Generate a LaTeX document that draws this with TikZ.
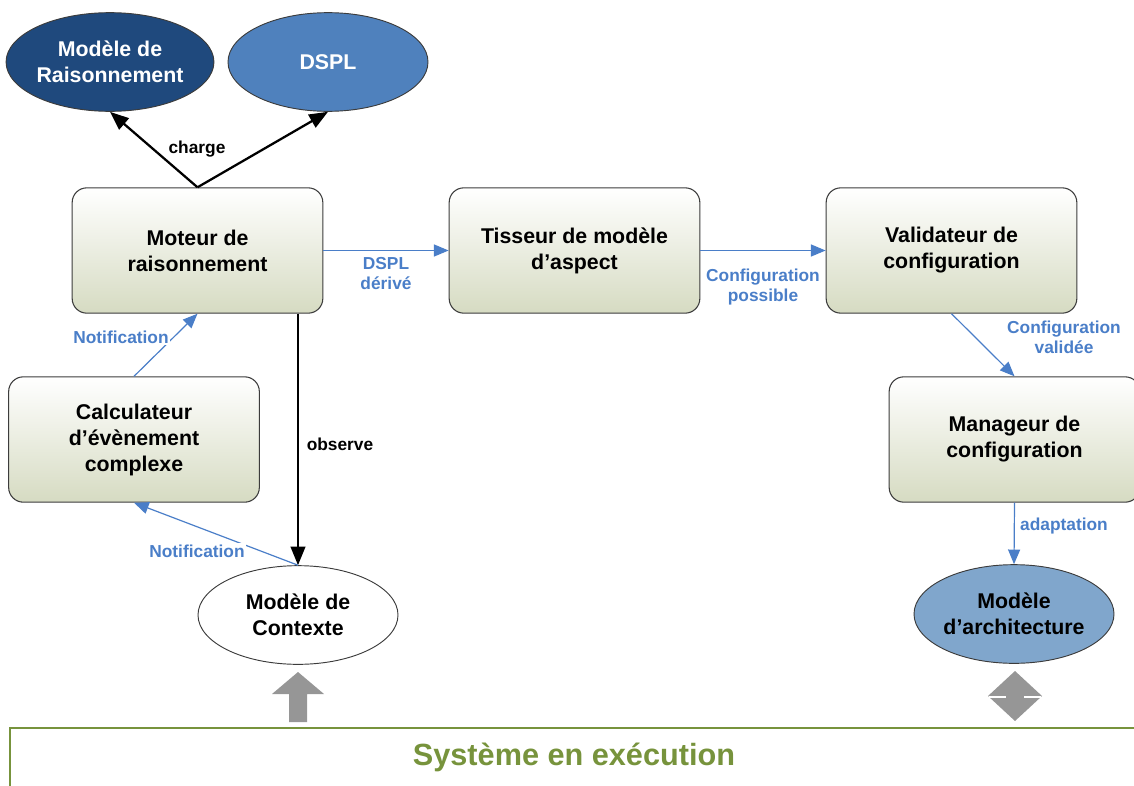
\documentclass[tikz,border=0pt]{standalone}
\usepackage{fontspec}
\setmainfont{Liberation Sans}
\usetikzlibrary{positioning,arrows.meta,shapes.geometric}

\definecolor{raisblue}{RGB}{31,73,125}
\definecolor{dsplblue}{RGB}{79,129,189}
\definecolor{archblue}{RGB}{128,166,204}
\definecolor{flowblue}{RGB}{74,126,200}
\definecolor{boxbot}{RGB}{214,219,194}
\definecolor{boxline}{RGB}{60,60,60}
\definecolor{sysgreen}{RGB}{119,147,60}
\definecolor{blockgray}{RGB}{150,150,150}

\tikzset{
    comp/.style={draw=boxline, line width=0.8pt, rounded corners=11pt,
        top color=white, bottom color=boxbot,
        minimum width=188pt, minimum height=94pt, align=center,
        font=\fontsize{16}{19.5}\selectfont\bfseries},
    model/.style={ellipse, draw=boxline, line width=0.7pt, inner sep=0pt,
        minimum width=150pt, minimum height=74pt, align=center,
        font=\fontsize{16}{19.5}\selectfont\bfseries},
    flow/.style={-{Triangle[length=11pt,width=9pt]}, flowblue, line width=0.9pt},
    ctrl/.style={-{Triangle[length=14pt,width=11pt]}, black, line width=1.7pt},
    lbl/.style={text=flowblue, font=\fontsize{13}{15}\selectfont\bfseries,
        align=center, inner sep=1pt}
}

\begin{document}
\begin{tikzpicture}[x=0.75pt,y=-0.75pt]
    \clip (0,0) rectangle (1134,785);
    % modeles
    \node[model, fill=raisblue, text=white] (raison) at (110,62) {Modèle de\\Raisonnement};
    \node[model, fill=dsplblue, text=white] (dspl) at (328,62) {DSPL};
    \node[model, fill=white] (ctx) at (298,615) {Modèle de\\Contexte};
    \node[model, fill=archblue] (archi) at (1014,614) {Modèle\\d’architecture};
    % composants
    \node[comp] (moteur) at (197.5,250.5) {Moteur de\\raisonnement};
    \node[comp] (tisseur) at (574.5,250.5) {Tisseur de modèle\\d’aspect};
    \node[comp] (valid) at (951.5,250.5) {Validateur de\\configuration};
    \node[comp] (calcul) at (134,439.5) {Calculateur\\d’évènement\\complexe};
    \node[comp] (manag) at (1014.5,439.5) {Manageur de\\configuration};

    \draw[ctrl] (moteur.north) -- (raison.south);
    \draw[ctrl] (moteur.north) -- (dspl.south);
    \draw[ctrl] (ctx.north |- moteur.south) -- (ctx.north);
    \draw[flow] (moteur.east) -- (tisseur.west);
    \draw[flow] (tisseur.east) -- (valid.west);
    \draw[flow] (valid.south) -- (manag.north);
    \draw[flow] (manag.south) -- (archi.north);
    \draw[flow] (calcul.north) -- (moteur.south);
    \draw[flow] (ctx.north) -- (calcul.south);

    \node[lbl, text=black] (lcharge) at (197,149) {charge};
    \node[lbl, text=black] (lobserve) at (340,444) {observe};
    \node[lbl] (lderive) at (386,274) {DSPL\\dérivé};
    \node[lbl] (lpossible) at (763,287) {Configuration\\possible};
    \node[lbl] (lvalidee) at (1064,337) {Configuration\\validée};
    \node[lbl] (ladapt) at (1064,526) {adaptation};
    \node[lbl, fill=white] (lnotifa) at (121,337) {Notification};
    \node[lbl, fill=white] (lnotifb) at (197,551) {Notification};

    % systeme
    \fill[blockgray] (289,722) -- (289,694) -- (272,694) -- (298,672) -- (324,694)
        -- (307,694) -- (307,722) -- cycle;
    \fill[blockgray] (1015,671) -- (1042,696) -- (1015,721) -- (988,696) -- cycle;
    \draw[white, line width=1.5pt] (989,697) -- (1006,697) (1024,697) -- (1041,697);
    \draw[sysgreen, line width=2.2pt] (10,790) -- (10,728) -- (1140,728);
    \node[font=\fontsize{23}{28}\selectfont\bfseries, text=sysgreen] (systeme) at (574,757) {Système en exécution};
\end{tikzpicture}
\end{document}
